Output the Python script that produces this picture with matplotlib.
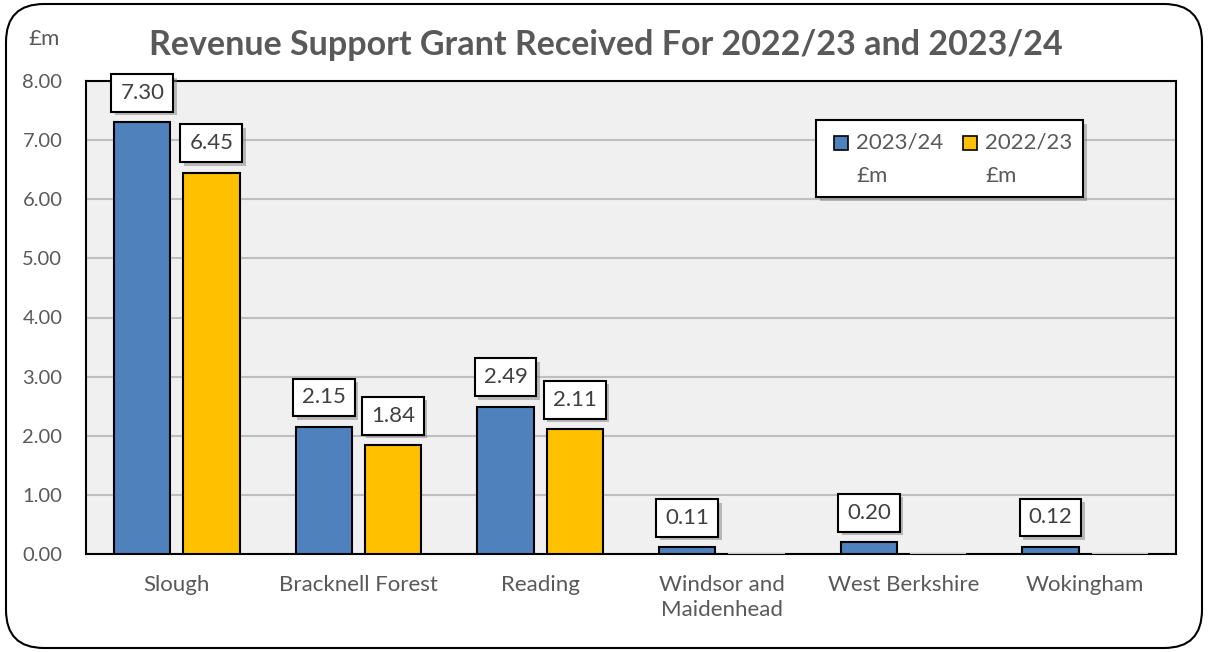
import matplotlib.pyplot as plt
import matplotlib.patches as mpatches
import matplotlib.patheffects as pe
import numpy as np

plt.rcParams['font.family'] = ['Lato', 'DejaVu Sans']

councils = ['Slough', 'Bracknell Forest', 'Reading', 'Windsor and\nMaidenhead',
            'West Berkshire', 'Wokingham']
grant_2324 = [7.30, 2.15, 2.49, 0.11, 0.20, 0.12]
grant_2223 = [6.45, 1.84, 2.11, 0.0, 0.0, 0.0]
series_names = ['2023/24', '2022/23']
y_ticks = [0, 1, 2, 3, 4, 5, 6, 7, 8]

BLUE = '#4f81bd'
GOLD = '#ffc000'
GREY_TXT = '#595959'

fig = plt.figure(figsize=(12.08, 6.52), dpi=100)
ax = fig.add_axes([86 / 1208, 98 / 652, 1090 / 1208, 473 / 652])
ax.set_facecolor('#f0f0f0')

x = np.arange(len(councils))
w = 0.31
off = 0.19
bars_a = ax.bar(x - off, grant_2324, w, color=BLUE, edgecolor='black', linewidth=1.5, zorder=3)
bars_b = ax.bar(x + off, grant_2223, w, color=GOLD, edgecolor='black', linewidth=1.5, zorder=3)
# zero-height bars show as a faint line
for b, v in zip(bars_b, grant_2223):
    if v == 0:
        b.set_edgecolor('#c8c8c8')
        b.set_linewidth(1.5)

shadow = [pe.withSimplePatchShadow(offset=(2.5, -2.5), shadow_rgbFace='#7f7f7f', alpha=0.5)]
for bars, vals in ((bars_a, grant_2324), (bars_b, grant_2223)):
    for b, v in zip(bars, vals):
        if v == 0:
            continue
        t = ax.annotate(f'{v:.2f}', (b.get_x() + b.get_width() / 2, v),
                        xytext=(0, 14), textcoords='offset points',
                        ha='center', va='bottom', fontsize=16, color='#404040',
                        bbox=dict(boxstyle='square,pad=0.4', fc='white', ec='black', lw=1.5),
                        zorder=5)
        t.get_bbox_patch().set_path_effects(shadow)

ax.set_xlim(-0.5, len(councils) - 0.5)
ax.set_ylim(0, 8)
ax.set_yticks(y_ticks)
ax.set_yticklabels([f'{v:.2f}' for v in y_ticks])
ax.set_xticks(x)
ax.set_xticklabels(councils, linespacing=1.35)
ax.tick_params(axis='y', length=0, pad=17, labelsize=14.5, labelcolor=GREY_TXT)
ax.tick_params(axis='x', length=0, pad=15, labelsize=16, labelcolor=GREY_TXT)
ax.yaxis.grid(True, color='#bfbfbf', linewidth=1.5, zorder=0)
ax.set_axisbelow(True)
for s in ax.spines.values():
    s.set_color('black')
    s.set_linewidth(1.5)

fig.text(606 / 1208, 1 - 45 / 652, 'Revenue Support Grant Received For 2022/23 and 2023/24',
         ha='center', va='center', fontsize=24.5, fontweight='bold', color=GREY_TXT)
fig.text(44 / 1208, 1 - 39 / 652, '£m', ha='center', va='center', fontsize=16, color=GREY_TXT)

# legend box, drawn by hand so the square sits by the first line
lx0, ly0, lw_, lh_ = 816, 120, 267, 77
box = mpatches.Rectangle((lx0 / 1208, 1 - (ly0 + lh_) / 652), lw_ / 1208, lh_ / 652,
                         transform=fig.transFigure, fc='white', ec='black', lw=1.5, zorder=6)
box.set_path_effects([pe.withSimplePatchShadow(offset=(3, -3), shadow_rgbFace='#7f7f7f', alpha=0.5)])
fig.patches.append(box)
for (sx, tx), name, col in zip(((834, 856), (963, 985)), series_names, (BLUE, GOLD)):
    sq = mpatches.Rectangle((sx / 1208, 1 - 150 / 652), 14 / 1208, 14 / 652,
                            transform=fig.transFigure, fc=col, ec='black', lw=1.2, zorder=7)
    fig.patches.append(sq)
    fig.text(tx / 1208, 1 - 143 / 652, name, ha='left', va='center', fontsize=16,
             color=GREY_TXT, zorder=8)
    fig.text(tx / 1208, 1 - 176 / 652, '£m', ha='left', va='center', fontsize=16,
             color=GREY_TXT, zorder=8)

frame = mpatches.FancyBboxPatch((6, 4), 1196, 644, boxstyle='round,pad=0,rounding_size=38',
                                transform=None, fc='none', ec='black', lw=1.5)
fig.patches.append(frame)

fig.savefig('out.png', dpi=100)
